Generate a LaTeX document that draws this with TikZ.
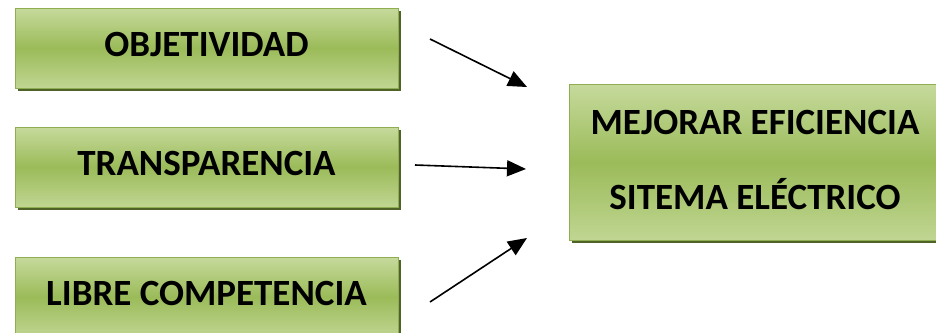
\documentclass[tikz,border=0pt]{standalone}
\usepackage{fontspec}
\setmainfont{Carlito}
\usetikzlibrary{arrows.meta,shadows}
\definecolor{boxtop}{HTML}{C6DA9C}
\definecolor{boxmid}{HTML}{9BBB59}
\definecolor{boxedge}{HTML}{8FAE52}
\definecolor{boxshadow}{HTML}{4F6228}
\tikzset{
  box/.style = {draw = boxedge, line width = 0.8pt, top color = boxtop, bottom color = boxtop!85!boxmid, middle color = boxmid,
    general shadow = {fill = boxshadow, shadow xshift = 3pt, shadow yshift = -3pt},
    font = \fontsize{37}{75}\selectfont\bfseries, inner sep = 0pt, align = center},
  arr/.style = {line width = 1.6pt, -{Triangle[length = 19pt, width = 16pt]}}
}
\begin{document}
\begin{tikzpicture}[x = 1pt, y = -1pt]
        \clip (0,0) rectangle (936,332);
        \node [box, minimum width = 383pt, minimum height = 80pt, text depth = 8pt] (1-1) at (206.5,48) {OBJETIVIDAD};
        \node [box, minimum width = 383pt, minimum height = 80pt, text depth = 8pt] (1-2) at (206.5,167) {TRANSPARENCIA};
        \node [box, minimum width = 383pt, minimum height = 80pt, text depth = 8pt] (1-3) at (206.5,297) {LIBRE COMPETENCIA};
        \node [box, minimum width = 372pt, minimum height = 156pt, text depth = 4pt] (2-1) at (755,162) {MEJORAR EFICIENCIA\\SITEMA ELÉCTRICO};
        \coordinate (a-1) at (430,39);
        \coordinate (b-1) at (527,87);
        \coordinate (a-2) at (415,165);
        \coordinate (b-2) at (526,169);
        \coordinate (a-3) at (430,302);
        \coordinate (b-3) at (527,238);
        \draw [arr] (a-1) -- (b-1);
        \draw [arr] (a-2) -- (b-2);
        \draw [arr] (a-3) -- (b-3);
    \end{tikzpicture}
\end{document}
